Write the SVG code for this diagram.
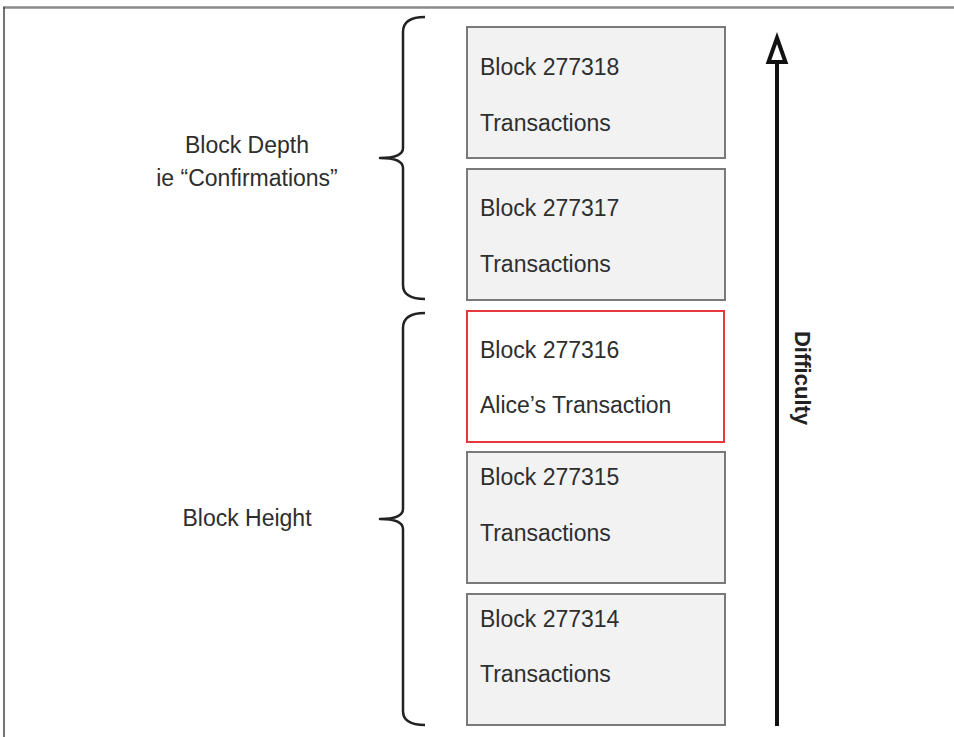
<svg xmlns="http://www.w3.org/2000/svg" width="954" height="737" viewBox="0 0 954 737">
<style>
text{font-family:"Liberation Sans",Arimo,Arial,sans-serif;font-size:23px;fill:#2e2e2e}
.blk{fill:#f2f2f2;stroke:#7a7a7a;stroke-width:2}
.hl{fill:#ffffff;stroke:#e8383d;stroke-width:2}
.brace{fill:none;stroke:#222;stroke-width:2.5;stroke-linejoin:round}
.lbl{text-anchor:middle}
</style>
<defs>
<marker id="openTri" viewBox="0 0 34 26" refX="5" refY="13" markerWidth="34" markerHeight="26" markerUnits="userSpaceOnUse" orient="auto" overflow="visible">
<polygon points="29,13 5,4.5 5,21.5" fill="#fff" stroke="#111" stroke-width="4" stroke-linejoin="miter"/>
</marker>
</defs>
<rect width="954" height="737" fill="#fff"/>
<g id="frame">
<line x1="3" y1="7.5" x2="954" y2="7.5" stroke="#8a8a8a" stroke-width="2.5"/>
<line x1="4" y1="7" x2="4" y2="737" stroke="#444" stroke-width="1.5"/>
</g>
<g id="block-277318">
<rect class="blk" x="467" y="27" width="258" height="131"/>
<text x="480" y="75">Block 277318</text>
<text x="480" y="131">Transactions</text>
</g>
<g id="block-277317">
<rect class="blk" x="467" y="169" width="258" height="131"/>
<text x="480" y="216">Block 277317</text>
<text x="480" y="272">Transactions</text>
</g>
<g id="block-277316">
<rect class="hl" x="467" y="311" width="257" height="131"/>
<text x="480" y="358">Block 277316</text>
<text x="480" y="413">Alice’s Transaction</text>
</g>
<g id="block-277315">
<rect class="blk" x="467" y="452" width="258" height="131"/>
<text x="480" y="485">Block 277315</text>
<text x="480" y="541">Transactions</text>
</g>
<g id="block-277314">
<rect class="blk" x="467" y="594" width="258" height="131"/>
<text x="480" y="627">Block 277314</text>
<text x="480" y="682">Transactions</text>
</g>
<g id="block-depth">
<path class="brace" d="M425,17 Q403,17 403,32 L403,148 Q403,158 380,158 Q403,158 403,168 L403,285 Q403,299 425,299"/>
<text class="lbl" x="247" y="153">Block Depth</text>
<text class="lbl" x="247" y="186">ie “Confirmations”</text>
</g>
<g id="block-height">
<path class="brace" d="M425,313 Q403,313 403,328 L403,509 Q403,519 380,519 Q403,519 403,529 L403,711 Q403,725 425,725"/>
<text class="lbl" x="247" y="526">Block Height</text>
</g>
<g id="connectors">
<line x1="777" y1="726" x2="777" y2="62" stroke="#111" stroke-width="4" marker-end="url(#openTri)"/>
</g>
<g id="difficulty">
<text transform="translate(795,378) rotate(90)" text-anchor="middle" style="font-weight:bold;font-size:22px;fill:#222">Difficulty</text>
</g>
</svg>
